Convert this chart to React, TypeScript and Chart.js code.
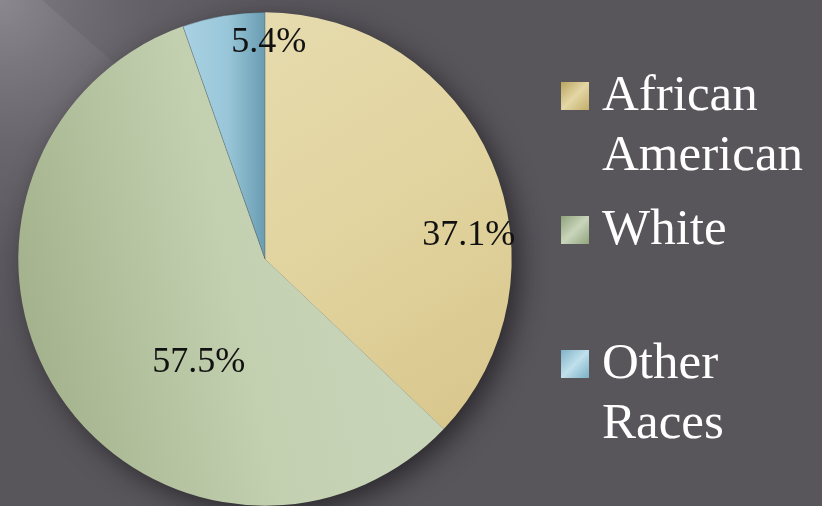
import React, { useEffect, useRef } from "react";
import { Chart, registerables } from "chart.js";

Chart.register(...registerables);

const categories: string[][] = [["African", "American"], ["White"], ["Other", "Races"]];
const shares: number[] = [37.1, 57.5, 5.4];

// label placement: angular offset (deg) from slice mid-angle, radius fraction
const labelOffsetDeg: number[] = [15.8, -23.7, 10.7];
const labelRadiusFrac: number[] = [0.833, 0.488, 0.887];

const FONT = "'Liberation Serif', 'Times New Roman', serif";

function geom(chart: any) {
  const a = chart.chartArea || { left: 17, right: 513, top: 12, bottom: 508 };
  const cx = (a.left + a.right) / 2;
  const cy = (a.top + a.bottom) / 2;
  const r = Math.min(a.right - a.left, a.bottom - a.top) / 2;
  return { cx, cy, r };
}

function sliceFill(context: any) {
  const chart = context.chart;
  const ctx = chart.ctx;
  const { cx, cy, r } = geom(chart);
  const i = context.dataIndex;
  let g;
  if (i === 0) {
    g = ctx.createLinearGradient(cx, cy - r, cx + r, cy + 0.6 * r);
    g.addColorStop(0, "#e6dbae");
    g.addColorStop(0.5, "#e2d49f");
    g.addColorStop(1, "#d8c68c");
  } else if (i === 1) {
    g = ctx.createLinearGradient(cx - r, cy + 0.2 * r, cx + 0.4 * r, cy - 0.1 * r);
    g.addColorStop(0, "#a3b28c");
    g.addColorStop(0.6, "#c3d0b0");
    g.addColorStop(1, "#c8d4b8");
  } else {
    g = ctx.createLinearGradient(cx - 0.33 * r, cy, cx, cy);
    g.addColorStop(0, "#a9d2e4");
    g.addColorStop(0.55, "#98c6d8");
    g.addColorStop(1, "#6a9cb2");
  }
  return g;
}

const backgroundPlugin = {
  id: "bg",
  beforeDraw(chart: any) {
    const { ctx, width, height } = chart;
    ctx.save();
    ctx.fillStyle = "#58555b";
    ctx.fillRect(0, 0, width, height);
    const rg = ctx.createRadialGradient(0, 0, 0, 0, 0, 380);
    rg.addColorStop(0, "rgba(140,136,144,0.8)");
    rg.addColorStop(0.4, "rgba(120,116,124,0.35)");
    rg.addColorStop(1, "rgba(100,96,104,0)");
    ctx.fillStyle = rg;
    ctx.fillRect(0, 0, width, height);
    // soft light wedge in the corner
    ctx.beginPath();
    ctx.moveTo(0, 0);
    ctx.lineTo(42, 0);
    ctx.lineTo(420, 330);
    ctx.lineTo(0, 330);
    ctx.closePath();
    ctx.clip();
    const wg = ctx.createRadialGradient(0, 0, 0, 0, 0, 260);
    wg.addColorStop(0, "rgba(255,255,255,0.08)");
    wg.addColorStop(1, "rgba(255,255,255,0)");
    ctx.fillStyle = wg;
    ctx.fillRect(0, 0, width, height);
    ctx.restore();
  },
  beforeDatasetsDraw(chart: any) {
    const { ctx } = chart;
    const { cx, cy, r } = geom(chart);
    ctx.save();
    ctx.shadowColor = "rgba(20,18,22,0.7)";
    ctx.shadowBlur = 28;
    ctx.shadowOffsetX = 8;
    ctx.shadowOffsetY = 8;
    ctx.beginPath();
    ctx.arc(cx, cy, r - 2, 0, Math.PI * 2);
    ctx.fillStyle = "#58555b";
    ctx.fill();
    ctx.restore();
  },
};

const labelPlugin = {
  id: "sliceLabels",
  afterDatasetsDraw(chart: any) {
    const { ctx } = chart;
    const meta = chart.getDatasetMeta(0);
    const values = chart.data.datasets[0].data as number[];
    ctx.save();
    const size = 36;
    ctx.font = `${size}px ${FONT}`;
    ctx.fillStyle = "#111111";
    ctx.textAlign = "center";
    ctx.textBaseline = "alphabetic";
    meta.data.forEach((arc: any, i: number) => {
      const p = arc.getProps(["x", "y", "startAngle", "endAngle", "outerRadius"], true);
      const mid = (p.startAngle + p.endAngle) / 2 + (labelOffsetDeg[i] * Math.PI) / 180;
      const rr = p.outerRadius * labelRadiusFrac[i];
      const x = p.x + Math.cos(mid) * rr;
      const y = p.y + Math.sin(mid) * rr;
      ctx.fillText(values[i].toFixed(1) + "%", x, y + size * 0.34);
    });
    ctx.restore();
  },
};

const legendPlugin = {
  id: "customLegend",
  afterDraw(chart: any) {
    const { ctx } = chart;
    const labels = chart.data.labels as string[][];
    const x0 = 561;
    const box = 28;
    const textX = 602;
    const firstBaseline = 110;
    const pitch = 134;
    const lineH = 60;
    ctx.save();
    ctx.font = `51px ${FONT}`;
    ctx.textAlign = "left";
    ctx.textBaseline = "alphabetic";
    labels.forEach((lines, i) => {
      const base = firstBaseline + i * pitch;
      const g = ctx.createLinearGradient(x0, base - box, x0 + box, base);
      const stops = [
        ["#b9a55e", "#e4d7a6", "#c2ae6a"],
        ["#8fa27a", "#c9d5bb", "#90a57c"],
        ["#7fb2c6", "#c0e0ec", "#7bb0c4"],
      ][i];
      g.addColorStop(0, stops[0]);
      g.addColorStop(0.5, stops[1]);
      g.addColorStop(1, stops[2]);
      ctx.fillStyle = g;
      ctx.fillRect(x0, base - box, box, box);
      ctx.fillStyle = "#ffffff";
      lines.forEach((t, j) => ctx.fillText(t, textX, base + j * lineH));
    });
    ctx.restore();
  },
};

export default function App() {
  const ref = useRef<HTMLCanvasElement | null>(null);
  useEffect(() => {
    if (!ref.current) return;
    const chart = new Chart(ref.current, {
      type: "pie",
      data: {
        labels: categories as any,
        datasets: [
          {
            data: shares,
            backgroundColor: sliceFill as any,
            borderWidth: 0.6,
            borderColor: ["rgba(0,0,0,0)", "rgba(0,0,0,0)", "rgba(60,70,75,0.6)"],
          },
        ],
      },
      options: {
        responsive: false,
        animation: false,
        layout: { padding: { left: 17, right: 309, top: 12, bottom: -2 } },
        plugins: {
          legend: { display: false },
          tooltip: { enabled: false },
          title: { display: false },
        },
      },
      plugins: [backgroundPlugin, labelPlugin, legendPlugin],
    });
    return () => chart.destroy();
  }, []);
  return (
    <div style={{ position: "absolute", left: 0, top: 0, width: 822, height: 506, overflow: "hidden" }}>
      <canvas ref={ref} width={822} height={506} style={{ display: "block" }} />
    </div>
  );
}
